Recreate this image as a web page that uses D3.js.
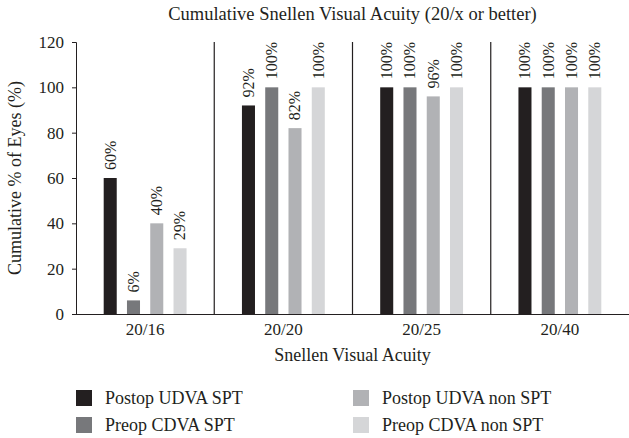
<!DOCTYPE html>
<html>
<head>
<meta charset="utf-8">
<script src="https://cdn.jsdelivr.net/npm/d3@7"></script>
<style>
  body { margin: 0; background: #fff; }
  svg { display: block; }
</style>
</head>
<body>
<svg width="629" height="438"></svg>
<script>
const categories = ["20/16", "20/20", "20/25", "20/40"]
const seriesNames = ["Postop UDVA SPT", "Preop CDVA SPT", "Postop UDVA non SPT", "Preop CDVA non SPT"]
const postopUdvaSpt = [60, 92, 100, 100]
const preopCdvaSpt = [6, 100, 100, 100]
const postopUdvaNonSpt = [40, 82, 96, 100]
const preopCdvaNonSpt = [29, 100, 100, 100]
const yTicks = [0, 20, 40, 60, 80, 100, 120]
const colors = ["#231f20", "#77787b", "#b1b2b5", "#d5d6d8"]

const seriesValues = [postopUdvaSpt, preopCdvaSpt, postopUdvaNonSpt, preopCdvaNonSpt]
const serif = "'Liberation Serif', 'DejaVu Serif', serif"
const ink = "#231f20"

const svg = d3.select("svg")
const width = +svg.attr("width")
const height = +svg.attr("height")

const margin = { top: 42, right: 0, bottom: 124, left: 76 }
const innerWidth = width - margin.left - margin.right
const innerHeight = height - margin.top - margin.bottom

const data = categories.map((c, i) => ({
  category: c,
  values: seriesNames.map((s, j) => ({ series: s, idx: j, value: seriesValues[j][i] }))
}))

const xScale = d3.scaleBand().domain(categories).range([0, innerWidth]).padding(0)
const xInner = d3.scaleBand()
  .domain(seriesNames)
  .range([0, xScale.bandwidth()])
  .paddingInner(0.44)
  .paddingOuter(1.19)
const yScale = d3.scaleLinear().domain([0, 120]).range([innerHeight, 0])

const g = svg.append("g").attr("transform", `translate(${margin.left},${margin.top})`)

// y axis
const yAxisG = g.append("g")
  .call(d3.axisLeft(yScale).tickValues(yTicks).tickSize(4).tickPadding(8))
yAxisG.selectAll("line, path").attr("stroke", ink)
yAxisG.select(".domain").attr("d", `M-4,0.5H0.5V${innerHeight}`)
yAxisG.selectAll("text")
  .style("font-family", serif)
  .style("font-size", "17px")
  .attr("fill", ink)

// x axis
const xAxisG = g.append("g")
  .attr("transform", `translate(0,${innerHeight})`)
  .call(d3.axisBottom(xScale).tickSize(0).tickPadding(9))
xAxisG.select(".domain").attr("stroke", ink).attr("d", `M0,0.5H${innerWidth}`)
xAxisG.selectAll("text")
  .style("font-family", serif)
  .style("font-size", "17px")
  .attr("fill", ink)

// group separators
g.selectAll(".sep")
  .data(categories.slice(1))
  .join("line")
  .attr("class", "sep")
  .attr("x1", (d) => xScale(d))
  .attr("x2", (d) => xScale(d))
  .attr("y1", 0)
  .attr("y2", innerHeight)
  .attr("stroke", ink)
  .attr("stroke-width", 1.2)

// bars
const groups = g.selectAll(".grp")
  .data(data)
  .join("g")
  .attr("class", "grp")
  .attr("transform", (d) => `translate(${xScale(d.category)},0)`)

groups.selectAll("rect")
  .data((d) => d.values)
  .join("rect")
  .attr("x", (d) => xInner(d.series))
  .attr("y", (d) => yScale(d.value))
  .attr("width", xInner.bandwidth())
  .attr("height", (d) => innerHeight - yScale(d.value))
  .attr("fill", (d) => colors[d.idx])

groups.selectAll(".val")
  .data((d) => d.values)
  .join("text")
  .attr("class", "val")
  .attr("transform", (d) =>
    `translate(${xInner(d.series) + xInner.bandwidth() / 2},${yScale(d.value) - 8}) rotate(-90)`)
  .attr("dy", "0.34em")
  .attr("fill", ink)
  .style("font-family", serif)
  .style("font-size", "16px")
  .text((d) => d.value + "%")

// title
svg.append("text")
  .attr("x", margin.left + innerWidth / 2)
  .attr("y", 20)
  .attr("text-anchor", "middle")
  .attr("fill", ink)
  .style("font-family", serif)
  .style("font-size", "18.5px")
  .text("Cumulative Snellen Visual Acuity (20/x or better)")

// axis labels
svg.append("text")
  .attr("x", margin.left + innerWidth / 2)
  .attr("y", 361)
  .attr("text-anchor", "middle")
  .attr("fill", ink)
  .style("font-family", serif)
  .style("font-size", "18px")
  .text("Snellen Visual Acuity")

svg.append("text")
  .attr("transform", `translate(21,${margin.top + innerHeight / 2}) rotate(-90)`)
  .attr("text-anchor", "middle")
  .attr("fill", ink)
  .style("font-family", serif)
  .style("font-size", "18px")
  .text("Cumulative % of Eyes (%)")

// legend
const legend = svg.append("g")
  .selectAll("g")
  .data(seriesNames)
  .join("g")
  .attr("transform", (d, i) => `translate(${i < 2 ? 76 : 353},${390 + (i % 2) * 27})`)

legend.append("rect")
  .attr("width", 16)
  .attr("height", 16)
  .attr("fill", (d, i) => colors[i])

legend.append("text")
  .attr("x", 29)
  .attr("y", 14)
  .attr("fill", ink)
  .style("font-family", serif)
  .style("font-size", "18px")
  .text((d) => d)
</script>
</body>
</html>
